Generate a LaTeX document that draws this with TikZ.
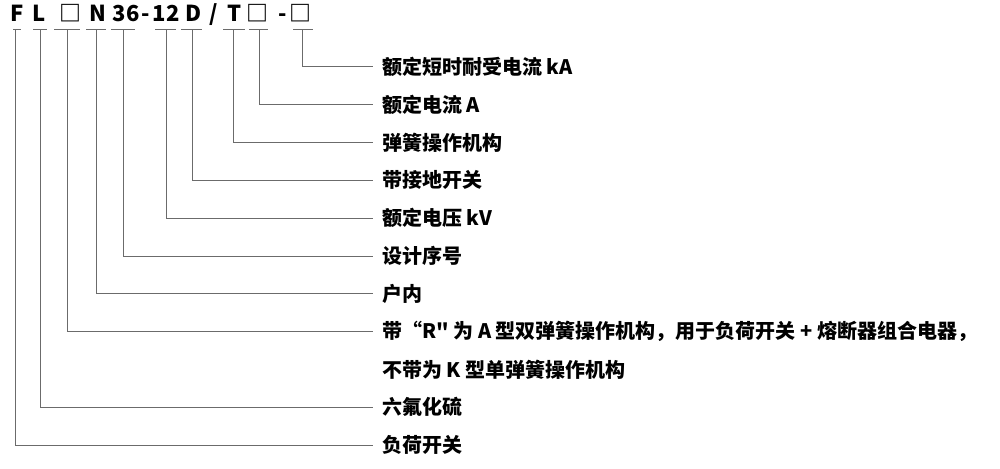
\documentclass[tikz,border=0pt]{standalone}
\usepackage{fontspec}
\setmainfont{Noto Sans CJK SC}
\newfontfamily\plainquote{Noto Sans CJK SC}
\usepackage{tikz}

\tikzset{
  code/.style={anchor=base, inner sep=0pt, font=\fontsize{22}{22}\selectfont\bfseries},
  lbl/.style={anchor=west, inner xsep=9pt, inner ysep=0pt, font=\fontsize{20}{20}\selectfont\bfseries},
  lead/.style={draw=black!58, line width=1pt}
}

\begin{document}
\begin{tikzpicture}[x=1pt,y=-1pt]
\useasboundingbox (0,0) rectangle (1000,468);

\node[code] (cF) at (17.5,22) {F};
\node[code] (cL) at (39.5,22) {L};
\node[code] (cR) at (70.5,22) {□};
\node[code] (cN) at (98,22) {N};
\node[code] (cV) at (126,22) {36};
\node[code] (cA) at (145.5,22) {-};
\node[code] (cU) at (166,22) {12};
\node[code] (cD) at (194,22) {D};
\node[code] (cB) at (213.5,22) {/};
\node[code] (cT) at (234.5,22) {T};
\node[code] (cI) at (257.5,22) {□};
\node[code] (cC) at (282.5,22) {-};
\node[code] (cK) at (300.5,22) {□};

\draw[lead] (13,30)--(21,30);
\draw[lead] (33,30)--(47,30);
\draw[lead] (54,30)--(80,30);
\draw[lead] (86,30)--(106,30);
\draw[lead] (111,30)--(135,30);
\draw[lead] (155,30)--(176,30);
\draw[lead] (181,30)--(202,30);
\draw[lead] (223,30)--(245,30);
\draw[lead] (249,30)--(268,30);
\draw[lead] (293,30)--(313,30);

\coordinate (uF) at (15,30);
\coordinate (uL) at (40,30);
\coordinate (uR) at (67,30);
\coordinate (uN) at (96,30);
\coordinate (uV) at (123,30);
\coordinate (uU) at (166,30);
\coordinate (uD) at (192,30);
\coordinate (uT) at (233,30);
\coordinate (uI) at (259,30);
\coordinate (uK) at (302,30);

\node[lbl] (lK) at (373,67) {额定短时耐受电流 kA};
\node[lbl] (lI) at (373,104.8) {额定电流 A};
\node[lbl] (lT) at (373,142.6) {弹簧操作机构};
\node[lbl] (lD) at (373,180.4) {带接地开关};
\node[lbl] (lU) at (373,218.2) {额定电压 kV};
\node[lbl] (lV) at (373,256) {设计序号};
\node[lbl] (lN) at (373,293.8) {户内};
\node[lbl] (lR) at (373,331.6) {带“R{\plainquote "} 为 A 型双弹簧操作机构，用于负荷开关 + 熔断器组合电器，};
\node[lbl] (lR2) at (373,369.4) {不带为 K 型单弹簧操作机构};
\node[lbl] (lL) at (373,407.2) {六氟化硫};
\node[lbl] (lF) at (373,445) {负荷开关};

\draw[lead] (uK) |- (lK.west);
\draw[lead] (uI) |- (lI.west);
\draw[lead] (uT) |- (lT.west);
\draw[lead] (uD) |- (lD.west);
\draw[lead] (uU) |- (lU.west);
\draw[lead] (uV) |- (lV.west);
\draw[lead] (uN) |- (lN.west);
\draw[lead] (uR) |- (lR.west);
\draw[lead] (uL) |- (lL.west);
\draw[lead] (uF) |- (lF.west);
\end{tikzpicture}
\end{document}
